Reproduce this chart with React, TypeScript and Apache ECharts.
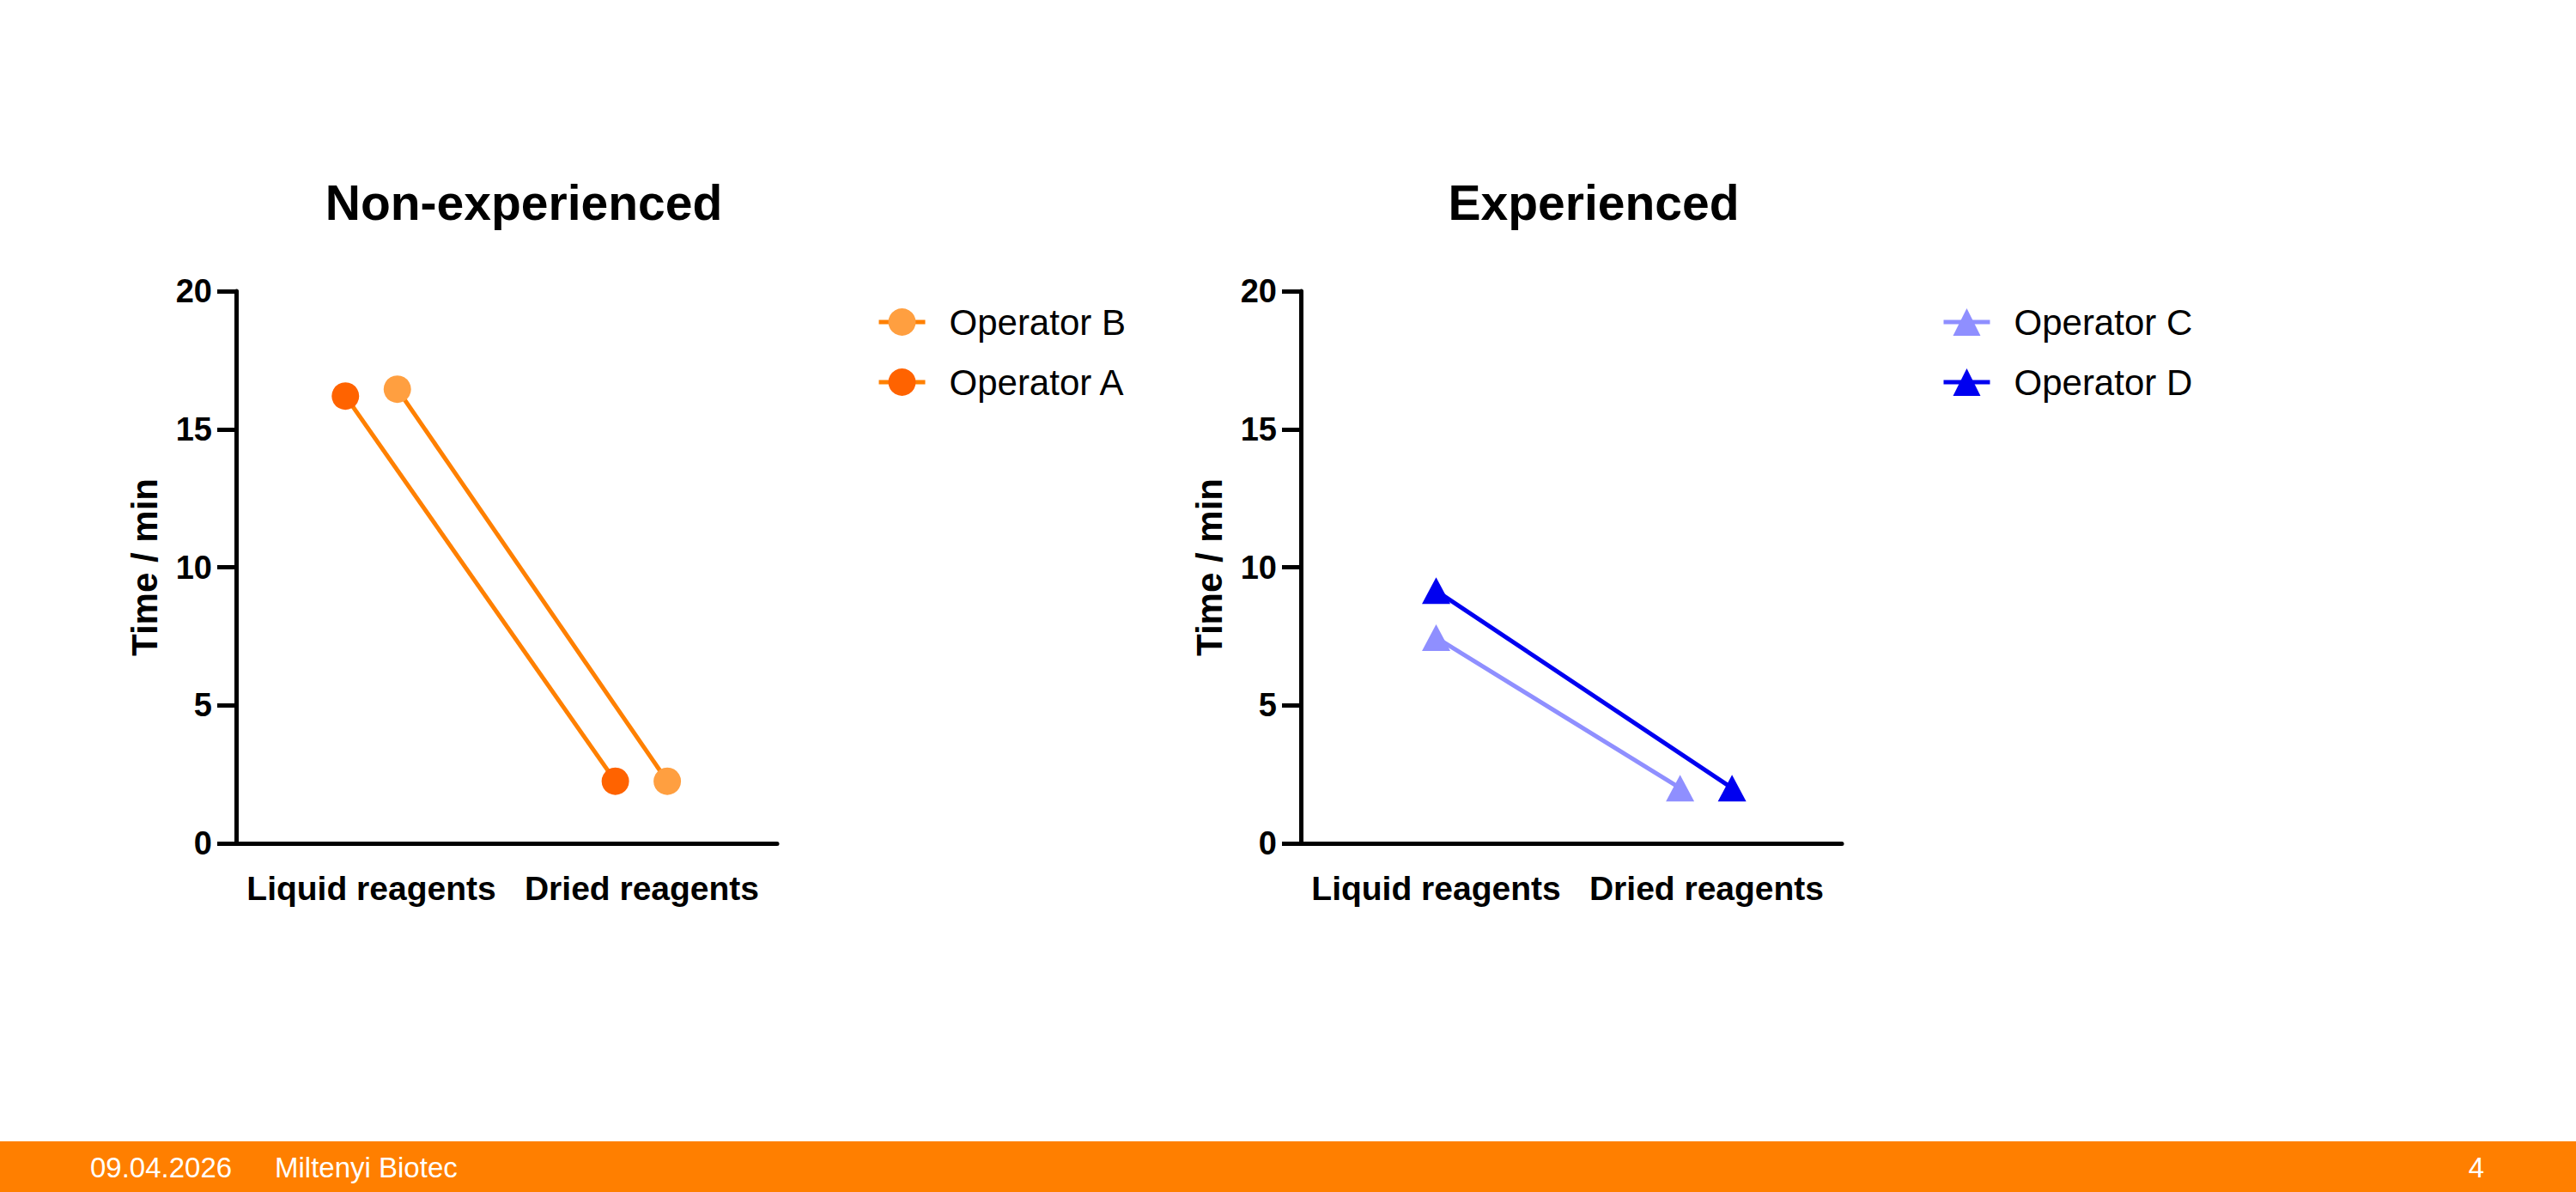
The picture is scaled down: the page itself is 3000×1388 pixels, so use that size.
import React, { useEffect, useRef } from "react";
import * as echarts from "echarts";

const categories = ["Liquid reagents", "Dried reagents"];
const yTicks = { min: 0, max: 20, interval: 5 };

const operatorA = [16.2, 2.25];
const operatorB = [16.45, 2.25];
const operatorC = [7.45, 2.0];
const operatorD = [9.15, 2.0];

// horizontal dodge (in category units) applied to each series' points
const dodgeA = [-0.096, -0.098];
const dodgeB = [0.096, 0.094];
const dodgeC = [0, -0.098];
const dodgeD = [0, 0.094];

const titles = ["Non-experienced", "Experienced"];
const footerDate = "09.04.2026";
const footerCompany = "Miltenyi Biotec";
const footerPage = "4";

const FONT = "'Liberation Sans', Arial, Helvetica, sans-serif";

function pts(values: number[], dodge: number[]) {
  return values.map((v, i) => [i + dodge[i], v]);
}

export default function App() {
  const ref = useRef<HTMLDivElement>(null);
  useEffect(() => {
    if (!ref.current) return;
    const chart = echarts.init(ref.current, undefined, { renderer: "svg" });

    const gridW = 630;
    const gridH = 643;
    const grids = [
      { left: 275, top: 339, width: gridW, height: gridH },
      { left: 1515, top: 339, width: gridW, height: gridH },
    ];

    const catAxis = (gi: number) => ({
      type: "category",
      gridIndex: gi,
      data: categories,
      boundaryGap: true,
      axisLine: { show: true, onZero: false, lineStyle: { color: "#000", width: 5 } },
      axisTick: { show: false },
      axisLabel: {
        interval: 0,
        color: "#000",
        fontSize: 39,
        fontWeight: "bold",
        fontFamily: FONT,
        margin: 33,
      },
      splitLine: { show: false },
    });
    const valXAxis = (gi: number) => ({
      type: "value",
      gridIndex: gi,
      min: -0.5,
      max: 1.5,
      show: false,
    });
    const yAxis = (gi: number) => ({
      type: "value",
      gridIndex: gi,
      min: yTicks.min,
      max: yTicks.max,
      interval: yTicks.interval,
      name: "Time / min",
      nameLocation: "middle",
      nameGap: 86,
      nameTextStyle: {
        color: "#000",
        fontSize: 42,
        fontWeight: "bold",
        fontFamily: FONT,
      },
      axisLine: { show: true, onZero: false, lineStyle: { color: "#000", width: 5 } },
      axisTick: { show: true, length: 22, lineStyle: { color: "#000", width: 5 } },
      axisLabel: {
        color: "#000",
        fontSize: 38,
        fontWeight: "bold",
        fontFamily: FONT,
        margin: 28,
      },
      splitLine: { show: false },
    });

    const lineSeries = (
      name: string,
      data: number[][],
      xi: number,
      yi: number,
      symbol: string,
      symbolSize: any,
      markerColor: string,
      lineColor: string
    ) => ({
      name,
      type: "line",
      xAxisIndex: xi,
      yAxisIndex: yi,
      data,
      symbol,
      symbolSize,
      showSymbol: true,
      itemStyle: { color: markerColor, borderWidth: 0 },
      lineStyle: { color: lineColor, width: 5 },
      z: 3,
    });

    const legendCommon = {
      orient: "vertical",
      top: 354,
      padding: 0,
      itemWidth: 54,
      itemHeight: 40,
      itemGap: 28,
      lineStyle: { width: 5 },
      textStyle: {
        color: "#000",
        fontSize: 42,
        lineHeight: 40,
        fontFamily: FONT,
        padding: [0, 0, 0, 23],
      },
    };

    const option: any = {
      animation: false,
      backgroundColor: "#fff",
      grid: grids,
      xAxis: [catAxis(0), valXAxis(0), catAxis(1), valXAxis(1)],
      yAxis: [yAxis(0), yAxis(1)],
      legend: [
        { ...legendCommon, left: 1021, data: ["Operator B", "Operator A"] },
        { ...legendCommon, left: 2261, data: ["Operator C", "Operator D"] },
      ],
      series: [
        lineSeries("Operator A", pts(operatorA, dodgeA), 1, 0, "circle", 32, "#FF6300", "#FF8000"),
        lineSeries("Operator B", pts(operatorB, dodgeB), 1, 0, "circle", 32, "#FF9F40", "#FF8000"),
        lineSeries("Operator C", pts(operatorC, dodgeC), 3, 1, "triangle", [33, 31], "#8F8FFF", "#8F8FFF"),
        lineSeries("Operator D", pts(operatorD, dodgeD), 3, 1, "triangle", [33, 31], "#0000F0", "#0000F0"),
      ],
      graphic: [
        {
          type: "text",
          x: 610,
          y: 236,
          style: {
            text: titles[0],
            textAlign: "center",
            textVerticalAlign: "middle",
            fontSize: 57,
            fontWeight: "bold",
            fontFamily: FONT,
            fill: "#000",
          },
        },
        {
          type: "text",
          x: 1856,
          y: 236,
          style: {
            text: titles[1],
            textAlign: "center",
            textVerticalAlign: "middle",
            fontSize: 57,
            fontWeight: "bold",
            fontFamily: FONT,
            fill: "#000",
          },
        },
        {
          type: "rect",
          x: 0,
          y: 1329,
          shape: { x: 0, y: 0, width: 3000, height: 59 },
          style: { fill: "#FF7F00" },
          z: -1,
        },
        {
          type: "text",
          x: 105,
          y: 1359,
          style: {
            text: footerDate,
            textVerticalAlign: "middle",
            fontSize: 33,
            fontFamily: FONT,
            fill: "#fff",
          },
        },
        {
          type: "text",
          x: 320,
          y: 1359,
          style: {
            text: footerCompany,
            textVerticalAlign: "middle",
            fontSize: 33,
            fontFamily: FONT,
            fill: "#fff",
          },
        },
        {
          type: "text",
          x: 2893,
          y: 1359,
          style: {
            text: footerPage,
            textAlign: "right",
            textVerticalAlign: "middle",
            fontSize: 33,
            fontFamily: FONT,
            fill: "#fff",
          },
        },
      ],
    };

    chart.setOption(option);
    return () => chart.dispose();
  }, []);

  return (
    <div
      ref={ref}
      style={{ position: "absolute", left: 0, top: 0, width: 3000, height: 1388 }}
    />
  );
}
